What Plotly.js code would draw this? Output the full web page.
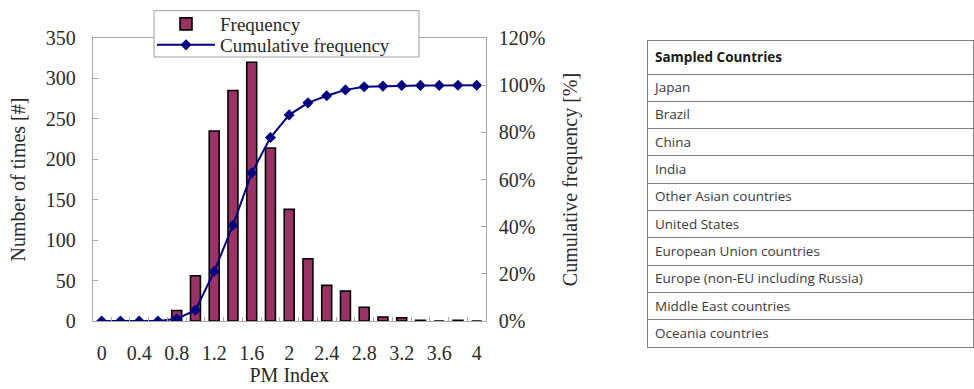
<!DOCTYPE html>
<html><head><meta charset="utf-8">
<script src="https://cdn.plot.ly/plotly-3.0.1.min.js"></script>
<style>html,body{margin:0;padding:0;background:#fff}#chart{width:974px;height:389px}</style>
</head><body><div id="chart"></div>
<script>
const pmIndex = [0,0.2,0.4,0.6,0.8,1.0,1.2,1.4,1.6,1.8,2.0,2.2,2.4,2.6,2.8,3.0,3.2,3.4,3.6,3.8,4.0];
const frequency = [0,0,0,0,13,56,235,285,320,214,138,77,44,37,17,5,4,1,0,1,0];
const cumulativePct = [0,0,0,0,0.9,4.6,21,40.6,62.8,77.8,87.4,92.5,95.5,98,99.3,99.6,99.9,99.9,99.9,100,100];
const xTickVals = [0,0.4,0.8,1.2,1.6,2,2.4,2.8,3.2,3.6,4];
const xTickText = ['0','0.4','0.8','1.2','1.6','2','2.4','2.8','3.2','3.6','4'];
const tableHeader = ['Sampled Countries'];
const countries = ['Japan','Brazil','China','India','Other Asian countries','United States',
  'European Union countries','Europe (non-EU including Russia)','Middle East countries','Oceania countries'];

const W = 974, H = 389;
const px = v => v / W, py = v => 1 - v / H;
const serif = 'Liberation Serif, Times New Roman, serif';
const txt = '#2a2a2a';
const axisCol = '#a8a8a8';
const FS = 20;

const tableRows = tableHeader.map(h => '<b>' + h + '</b>').concat(countries);
const tableColors = tableHeader.map(() => '#1a1a1a').concat(countries.map(() => '#3a3a3a'));

const traces = [
  {type:'bar', x: pmIndex, y: frequency, name:'Frequency', legend:'legend',
   marker:{color:'#993366', line:{color:'#000', width:1.6}}},
  {type:'scatter', mode:'lines+markers', x: pmIndex, y: cumulativePct, yaxis:'y2',
   name:'Cumulative frequency', legend:'legend2',
   line:{color:'#000080', width:2},
   marker:{symbol:'diamond', size:8.5, color:'#000080'}},
  {type:'table', domain:{x:[px(647), px(973)], y:[py(356), py(24)]},
   columnwidth:[1],
   header:{values: [], height:0, line:{width:0}},
   cells:{values:[tableRows], align:'left', height:27.3,
     fill:{color:'#fff'}, line:{color:'#7f7f7f', width:1},
     font:{family:'Open Sans, sans-serif', size:13.5, color:[tableColors]}}}
];

const legendCommon = {xanchor:'left', yanchor:'middle', bgcolor:'rgba(0,0,0,0)', borderwidth:0,
  font:{family:serif, size:19, color:txt}, itemwidth:58};

const layout = {
  width: W, height: H,
  margin:{l:0, r:0, t:0, b:0},
  paper_bgcolor:'#fff', plot_bgcolor:'#fff',
  bargap: 0.47,
  showlegend: true,
  legend: Object.assign({x:px(152), y:py(24)}, legendCommon),
  legend2: Object.assign({x:px(152), y:py(45)}, legendCommon),
  shapes:[{type:'rect', xref:'paper', yref:'paper', layer:'above',
    x0:px(154), x1:px(419), y0:py(57), y1:py(10.7),
    line:{color:'#a0a0a0', width:1}, fillcolor:'#fff'}],
  xaxis:{domain:[px(92.7), px(485.7)], range:[-0.096, 4.096],
    tickmode:'array', tickvals:xTickVals, ticktext:xTickText,
    ticks:'', ticklabelstandoff:14,
    showgrid:false, zeroline:false,
    showline:true, linecolor:axisCol, linewidth:1, mirror:true,
    minor:{ticks:'inside', tick0:0.1, dtick:0.2, ticklen:4, tickcolor:axisCol, showgrid:false},
    tickfont:{family:serif, size:FS, color:txt},
    title:{text:'PM Index', font:{family:serif, size:FS, color:txt}, standoff:4}},
  yaxis:{domain:[py(321), py(38)], range:[0,350], dtick:50,
    ticks:'inside', ticklen:5, tickcolor:axisCol,
    showgrid:false, zeroline:false,
    showline:true, linecolor:axisCol, linewidth:1, mirror:true,
    ticklabelstandoff:12,
    tickfont:{family:serif, size:FS, color:txt},
    title:{text:'Number of times [#]', font:{family:serif, size:FS, color:txt}, standoff:14}},
  yaxis2:{overlaying:'y', side:'right', anchor:'x', range:[0,120], dtick:20, ticksuffix:'%',
    ticks:'inside', ticklen:5, tickcolor:axisCol,
    showgrid:false, zeroline:false, showline:false,
    ticklabelstandoff:12,
    tickfont:{family:serif, size:FS, color:txt},
    title:{text:'Cumulative frequency [%]', font:{family:serif, size:FS, color:txt}, standoff:18}}
};

Plotly.newPlot('chart', traces, layout, {staticPlot:true, displayModeBar:false});
</script></body></html>
